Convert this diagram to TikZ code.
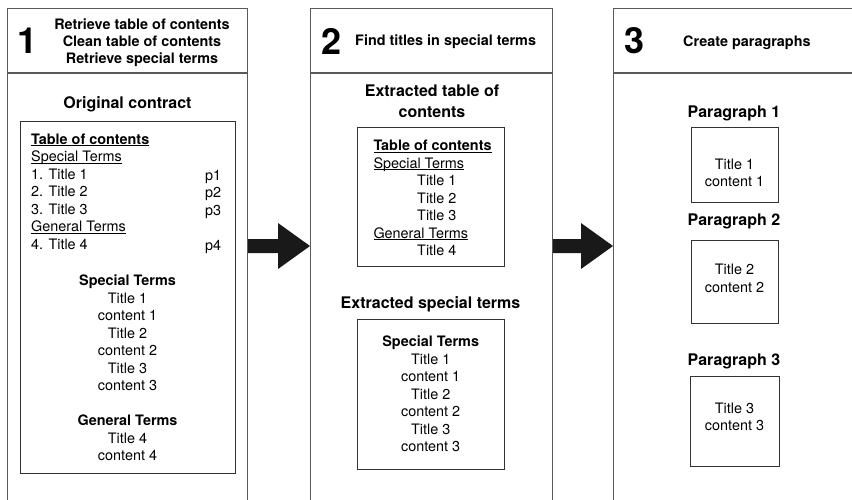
\documentclass[tikz,border=0pt]{standalone}
\usepackage{fontspec}
\setmainfont{TeX Gyre Heros}
\usepackage{tikz}
\usetikzlibrary{calc}
\newcommand{\uln}[1]{\leavevmode\setbox0\hbox{#1}\rlap{\rule[-1.9pt]{\wd0}{0.9pt}}\box0}
\newcommand{\blockarrow}[2]{%
  \fill[arrowfill] ($(#1)+(0,-7)$) -- ($(#2)+(-32,-7)$) -- ($(#2)+(-32,-23)$) -- (#2)
    -- ($(#2)+(-32,23)$) -- ($(#2)+(-32,7)$) -- ($(#1)+(0,7)$) -- cycle;}

\begin{document}
\begin{tikzpicture}[x=1pt, y=-1pt,
  panel/.style={draw=black!65, line width=1.2pt, anchor=north west, minimum height=540pt, inner sep=0},
  docbox/.style={draw=black!80, line width=0.9pt, anchor=north west, inner sep=0},
  num/.style={font=\fontsize{36}{36}\selectfont\bfseries, inner sep=0},
  head/.style={font=\fontsize{14.4}{17.3}\selectfont\bfseries, align=center, inner sep=0},
  ttl/.style={font=\fontsize{16}{21}\selectfont\bfseries, align=center, inner sep=0, anchor=north},
  body/.style={font=\fontsize{14.4}{17.5}\selectfont, inner sep=0},
  arrowfill/.style={fill=black!90}]
\useasboundingbox (0,0) rectangle (852,499);
\clip (0,0) rectangle (852,499);

% the three steps
\node[panel, minimum width=240pt] (step1) at (7,8) {};
\node[panel, minimum width=242pt] (step2) at (310,8) {};
\node[panel, minimum width=270pt] (step3) at (613,8) {};
\coordinate (hd) at (0,73);
\foreach \s in {step1,step2,step3}
  \draw[draw=black!65, line width=1.2pt] (\s.west |- hd) -- (\s.east |- hd);

\node[num] (n1) at (27.5,41) {1};
\node[head, anchor=north] (h1) at (142,18.3)
  {Retrieve table of contents\\Clean table of contents\\Retrieve special terms};
\node[num] (n2) at (332,41) {2};
\node[head, anchor=north west] (h2) at (355,35) {Find titles in special terms};
\node[num] (n3) at (635,41) {3};
\node[head, anchor=north west] (h3) at (683,36) {Create paragraphs};

% step 1: original contract
\node[ttl] (t1) at (127.5,96.7) {Original contract};
\node[docbox, minimum width=215pt, minimum height=352pt] (orig) at (20,121) {};
\node[body, align=left, anchor=north west] (toc1) at (31,133.3)
  {\uln{\textbf{Table of contents}}\\\uln{Special Terms}\\1. Title 1\\2. Title 2\\3. Title 3\\\uln{General Terms}\\4. Title 4};
\node[body, align=left, anchor=north west] (pages) at (205,169.6) {p1\\p2\\p3\\[17.5pt]p4};
\node[body, align=center, anchor=north] (terms1) at (127.5,275)
  {\textbf{Special Terms}\\Title 1\\content 1\\Title 2\\content 2\\Title 3\\content 3\\[17.5pt]\textbf{General Terms}\\Title 4\\content 4};

% step 2: extracted parts
\node[ttl] (t2) at (432,85) {Extracted table of\\contents};
\node[docbox, minimum width=147pt, minimum height=138.4pt] (exttoc) at (357,127.3) {};
\node[body, align=left, anchor=north west] (toc2) at (373.3,140)
  {\uln{\textbf{Table of contents}}\\\uln{Special Terms}\\\hspace*{43.7pt}Title 1\\\hspace*{43.7pt}Title 2\\\hspace*{43.7pt}Title 3\\\uln{General Terms}\\\hspace*{43.7pt}Title 4};
\node[ttl] (t3) at (430.5,296.7) {Extracted special terms};
\node[docbox, minimum width=147pt, minimum height=150pt] (extst) at (357,319) {};
\node[body, align=center, anchor=north] (terms2) at (430.7,336)
  {\textbf{Special Terms}\\Title 1\\content 1\\Title 2\\content 2\\Title 3\\content 3};

% step 3: paragraphs
\node[ttl] (t4) at (734,106) {Paragraph 1};
\node[docbox, minimum width=87.6pt, minimum height=75.6pt] (par1) at (690.7,126.7) {};
\node[body, align=center, anchor=north] (c1) at (734.5,158.3) {Title 1\\content 1};
\node[ttl] (t5) at (734,213.5) {Paragraph 2};
\node[docbox, minimum width=87.6pt, minimum height=83.3pt] (par2) at (690.7,240) {};
\node[body, align=center, anchor=north] (c2) at (734.5,264) {Title 2\\content 2};
\node[ttl] (t6) at (734,353.3) {Paragraph 3};
\node[docbox, minimum width=89.3pt, minimum height=90pt] (par3) at (690,375.7) {};
\node[body, align=center, anchor=north] (c3) at (734.5,402.3) {Title 3\\content 3};

% arrows between the steps
\coordinate (mid) at (0,246);
\coordinate (a1s) at (step1.east |- mid);
\coordinate (a1e) at (step2.west |- mid);
\coordinate (a2s) at (step2.east |- mid);
\coordinate (a2e) at (step3.west |- mid);
\blockarrow{a1s}{a1e}
\blockarrow{a2s}{a2e}
\end{tikzpicture}
\end{document}
